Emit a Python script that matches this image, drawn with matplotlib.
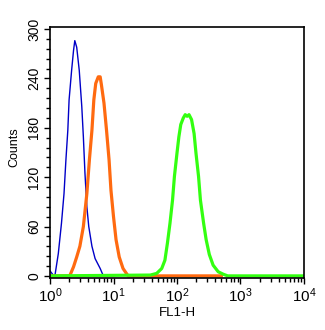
import matplotlib
matplotlib.use('Agg')
import matplotlib.pyplot as plt
from matplotlib.ticker import MultipleLocator, LogLocator, NullFormatter
import numpy as np

plt.rcParams['font.family'] = ['Liberation Sans', 'DejaVu Sans']
plt.rcParams['mathtext.fontset'] = 'custom'
plt.rcParams['mathtext.rm'] = 'Liberation Sans'
plt.rcParams['mathtext.it'] = 'Liberation Sans:italic'

# log10(FL1-H) positions and counts
blue_log = [0.00, 0.03, 0.06, 0.08, 0.13, 0.18, 0.22, 0.25, 0.28, 0.30, 0.34, 0.37,
            0.39, 0.42, 0.46, 0.50, 0.525, 0.55, 0.58, 0.61, 0.66, 0.71, 0.79, 0.84, 1.00]
blue_cnt = [6, 3, 0, 2, 27, 64, 100, 141, 177, 214, 250, 274,
            286, 278, 250, 206, 169, 125, 84, 60, 36, 21, 9, 0, 0]

orange_log = [0.00, 0.31, 0.37, 0.42, 0.47, 0.525, 0.58, 0.62, 0.66, 0.69, 0.72, 0.76,
              0.79, 0.81, 0.85, 0.89, 0.93, 0.96, 1.00, 1.04, 1.09, 1.15, 1.23, 2.70]
orange_cnt = [0, 0, 11, 23, 36, 60, 100, 141, 177, 214, 234, 242,
              242, 232, 210, 177, 141, 104, 72, 44, 23, 9, 0, 0]

green_log = [0.00, 1.58, 1.68, 1.76, 1.81, 1.85, 1.89, 1.93, 1.96, 2.00, 2.03, 2.06,
             2.10, 2.13, 2.16, 2.19, 2.23, 2.27, 2.30, 2.34, 2.37, 2.42, 2.46, 2.51,
             2.57, 2.65, 2.73, 2.80, 4.00]
green_cnt = [0, 1, 3, 9, 19, 40, 64, 92, 121, 149, 169, 184,
             192, 196, 194, 196, 190, 173, 149, 121, 92, 64, 44, 26,
             13, 5, 2, 0, 0]

fig = plt.figure(figsize=(3.25, 3.3), dpi=100)
ax = fig.add_axes([0.154, 0.159, 0.781, 0.759])

ax.plot(10 ** np.array(blue_log), blue_cnt, color='#0000c8', lw=1.0)
ax.plot(10 ** np.array(orange_log), orange_cnt, color='#ff6a10', lw=2.3)
ax.plot(10 ** np.array(green_log), green_cnt, color='#33ff11', lw=2.3)

ax.set_xscale('log')
ax.set_xlim(1, 1e4)
ax.set_ylim(-2, 302.5)
ax.set_yticks(range(0, 301, 60))
ax.yaxis.set_minor_locator(MultipleLocator(12))
ax.xaxis.set_major_locator(LogLocator(base=10, numticks=10))
ax.xaxis.set_minor_locator(LogLocator(base=10, subs=np.arange(2, 10), numticks=20))
ax.xaxis.set_minor_formatter(NullFormatter())

ax.tick_params(which='both', direction='out', top=False, right=False, width=1.0, color='black')
ax.tick_params(which='major', length=4.5)
ax.tick_params(which='minor', length=3)
ax.tick_params(axis='x', labelsize=11, pad=2)
ax.tick_params(axis='y', labelsize=10, pad=2)
for lab in ax.get_yticklabels():
    lab.set_rotation(90)
    lab.set_va('center')

for sp in ax.spines.values():
    sp.set_linewidth(1.2)

ax.set_xlabel('FL1-H', fontsize=9.5, labelpad=1)
ax.set_ylabel('Counts', fontsize=9, labelpad=6)
ax.yaxis.set_label_coords(-0.115, 0.52)

fig.savefig('out.png', dpi=100)
